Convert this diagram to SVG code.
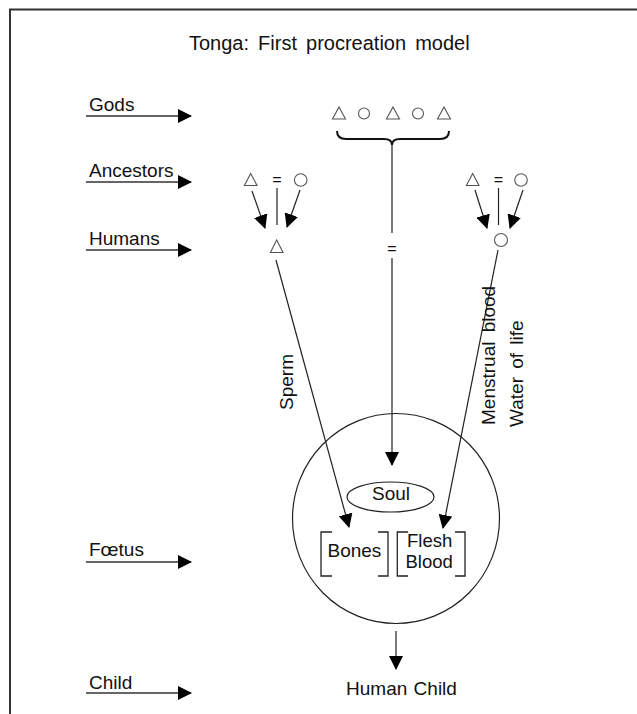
<svg xmlns="http://www.w3.org/2000/svg" width="637" height="714" viewBox="0 0 637 714">
<style>
text{font-family:"Liberation Sans",Arial,sans-serif;font-size:19px;fill:#111}
.ln{stroke:#222;stroke-width:1.2;fill:none}
.arr{stroke:#222;stroke-width:1.2;fill:none;marker-end:url(#ah)}
.lab{stroke:#333;stroke-width:1.6;fill:none;marker-end:url(#ah)}
.sym{stroke:#555;stroke-width:1.1;fill:none}
.eq{font-size:16px;text-anchor:middle}
.br{stroke:#222;stroke-width:1.3;fill:none}
</style>
<defs>
<marker id="ah" viewBox="0 0 14 14" markerWidth="14" markerHeight="14" refX="13" refY="7" orient="auto" markerUnits="userSpaceOnUse">
<path d="M0,0 L14,7 L0,14 z" fill="#000"/>
</marker>
</defs>
<rect width="637" height="714" fill="#fff"/>
<rect x="10" y="9.5" width="700" height="800" fill="none" stroke="#333" stroke-width="2"/>
<text id="title" x="189" y="50" style="font-size:20px;word-spacing:3.5px">Tonga: First procreation model</text>

<g id="levels">
<g id="lvl-gods"><text x="89" y="110.5">Gods</text><line class="lab" x1="86" y1="116" x2="191" y2="116"/></g>
<g id="lvl-ancestors"><text x="89" y="177">Ancestors</text><line class="lab" x1="86" y1="182" x2="191" y2="182"/></g>
<g id="lvl-humans"><text x="89" y="244.5">Humans</text><line class="lab" x1="86" y1="250" x2="191" y2="250"/></g>
<g id="lvl-foetus"><text x="89" y="556">Fœtus</text><line class="lab" x1="86" y1="562" x2="191" y2="562"/></g>
<g id="lvl-child"><text x="89" y="688.5">Child</text><line class="lab" x1="86" y1="693" x2="191" y2="693"/></g>
</g>

<g id="gods">
<polygon class="sym" points="339,107 345.5,119 332.5,119"/>
<circle class="sym" cx="364" cy="113.5" r="5.5"/>
<polygon class="sym" points="393,107 399.5,119 386.5,119"/>
<circle class="sym" cx="418" cy="113.5" r="5.5"/>
<polygon class="sym" points="444,107 450.5,119 437.5,119"/>
<path d="M337,131 Q337,139 346,139 L384,139 Q392,139 392,145 Q392,139 400,139 L440,139 Q449,139 449,131" stroke="#111" stroke-width="2" fill="none"/>
</g>

<g id="ancestors-left">
<polygon class="sym" points="250.7,173.5 257,185.5 244.4,185.5"/>
<text class="eq" x="277" y="185">=</text>
<circle class="sym" cx="300.7" cy="180" r="6.3"/>
<line class="ln" x1="277" y1="188" x2="277" y2="225"/>
</g>
<g id="ancestors-right">
<polygon class="sym" points="472.7,173.5 479,185.5 466.4,185.5"/>
<text class="eq" x="498.5" y="185">=</text>
<circle class="sym" cx="521" cy="180" r="6.3"/>
<line class="ln" x1="498.5" y1="188" x2="498.5" y2="225"/>
</g>
<g id="human-male"><polygon class="sym" points="276.7,240 283,252.5 270.4,252.5"/></g>
<g id="human-female"><circle class="sym" cx="501" cy="240" r="6.5"/></g>
<g id="marriage"><text class="eq" x="392" y="253.5">=</text></g>

<g id="foetus">
<ellipse cx="396" cy="518.5" rx="103.5" ry="105" class="ln"/>
<g id="soul"><ellipse cx="390.5" cy="497" rx="43.5" ry="15" class="ln"/><text x="391" y="499.5" text-anchor="middle">Soul</text></g>
<g id="bones">
<path class="br" d="M332,532 H321 V576 H332 M378,532 H388 V576 H378"/>
<text x="327.5" y="557">Bones</text>
</g>
<g id="flesh">
<path class="br" d="M408,532 H397.3 V576 H408 M455,532 H465 V576 H455"/>
<text x="407" y="547" style="font-size:18.5px">Flesh</text>
<text x="405.5" y="567.5" style="font-size:18.5px">Blood</text>
</g>
</g>

<g id="human-child"><text x="401.5" y="695" text-anchor="middle" style="word-spacing:1px">Human Child</text></g>

<g id="connectors">
<line class="ln" x1="392" y1="145" x2="392" y2="233"/>
<line class="arr" x1="392" y1="258" x2="392" y2="465"/>
<line class="arr" x1="252" y1="191" x2="265" y2="228"/>
<line class="arr" x1="300" y1="190" x2="287" y2="227"/>
<line class="arr" x1="475" y1="190" x2="487" y2="228"/>
<line class="arr" x1="523" y1="190" x2="510" y2="228"/>
<line class="arr" x1="276" y1="260" x2="349" y2="527"/>
<line class="arr" x1="498" y1="250" x2="443" y2="528"/>
<line class="arr" x1="396" y1="631" x2="396" y2="669"/>
<text transform="translate(293,410) rotate(-90)">Sperm</text>
<text transform="translate(495,425) rotate(-90)" style="word-spacing:4px">Menstrual blood</text>
<text transform="translate(523,427) rotate(-90)" style="word-spacing:3px">Water of life</text>
</g>
</svg>
